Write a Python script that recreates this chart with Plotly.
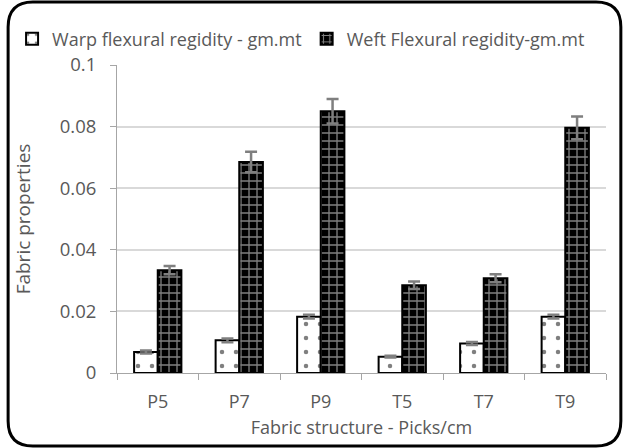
import plotly.graph_objects as go

categories = ["P5", "P7", "P9", "T5", "T7", "T9"]
warp = [0.0068, 0.0106, 0.0183, 0.0053, 0.0096, 0.0183]
warp_err = [0.0005, 0.0006, 0.0006, 0.0003, 0.0005, 0.0006]
weft = [0.0334, 0.0685, 0.0850, 0.0285, 0.0308, 0.0796]
weft_err = [0.0013, 0.0033, 0.0040, 0.0012, 0.0013, 0.0037]

W, H = 623, 448
L, R, T, B = 112, 17, 65, 75
pw, ph = W - L - R, H - T - B

def px(x):
    return (x - L) / pw

def py(y):
    return (H - B - y) / ph

grey = "#595959"
fig = go.Figure()
fig.add_trace(go.Bar(
    x=categories, y=warp, name="Warp flexural regidity - gm.mt",
    marker=dict(color="white", line=dict(color="black", width=2),
                pattern=dict(shape=".", fgcolor="black", bgcolor="white", size=14, solidity=0.08)),
    error_y=dict(type="data", array=warp_err, color="#7f7f7f", thickness=2.5, width=6),
))
fig.add_trace(go.Bar(
    x=categories, y=weft, name="Weft Flexural regidity-gm.mt",
    marker=dict(color="black", line=dict(color="black", width=2),
                pattern=dict(shape="+", fgcolor="white", bgcolor="black", size=8, solidity=0.3)),
    error_y=dict(type="data", array=weft_err, color="#7f7f7f", thickness=2.5, width=6),
))

r = 25
x0, x1, y0, y1 = 2, 621, 2, 446
pts = [
    ("M", (x0 + r, y0)), ("L", (x1 - r, y0)), ("Q", (x1, y0), (x1, y0 + r)),
    ("L", (x1, y1 - r)), ("Q", (x1, y1), (x1 - r, y1)), ("L", (x0 + r, y1)),
    ("Q", (x0, y1), (x0, y1 - r)), ("L", (x0, y0 + r)), ("Q", (x0, y0), (x0 + r, y0)),
]
path = ""
for item in pts:
    cmd = item[0]
    coords = " ".join(f"{px(a):.5f},{py(b):.5f}" for a, b in item[1:])
    path += f"{cmd} {coords} "
path += "Z"

fig.update_layout(
    width=W, height=H,
    margin=dict(l=L, r=R, t=T, b=B),
    paper_bgcolor="white", plot_bgcolor="white",
    barmode="group", bargap=0.42, bargroupgap=0,
    font=dict(family="Open Sans", color=grey, size=16),
    legend=dict(orientation="h", x=px(6), y=py(39), xanchor="left", yanchor="middle",
                font=dict(size=18, color=grey), traceorder="normal",
                tracegroupgap=0, itemwidth=30),
    showlegend=True,
    shapes=[dict(type="path", xref="paper", yref="paper", path=path,
                 line=dict(color="black", width=3), fillcolor="rgba(0,0,0,0)", layer="above")],
    xaxis=dict(title=dict(text="Fabric structure - Picks/cm", font=dict(size=18, color=grey), standoff=9),
               showline=True, linecolor="#a6a6a6", linewidth=1,
               ticks="outside", tickson="boundaries", ticklen=6, tickcolor="#a6a6a6",
               ticklabelstandoff=12,
               tickfont=dict(size=18, color=grey)),
    yaxis=dict(title=dict(text="Fabric properties", font=dict(size=19, color=grey), standoff=24),
               range=[0, 0.1], dtick=0.02, tickformat="~g",
               showline=True, linecolor="#a6a6a6", linewidth=1,
               ticks="outside", ticklen=6, tickcolor="#a6a6a6",
               ticklabelstandoff=10,
               gridcolor="#d9d9d9", gridwidth=2, zeroline=False,
               tickfont=dict(size=18.5, color=grey)),
)
fig.write_html("out.html")
